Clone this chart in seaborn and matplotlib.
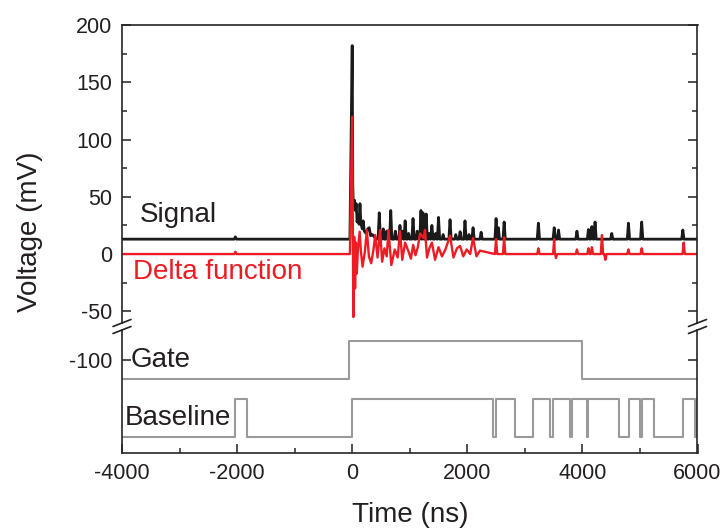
import numpy as np
import pandas as pd
import matplotlib
matplotlib.use("Agg")
import matplotlib.pyplot as plt
import seaborn as sns

# ---- data (time in ns, voltage in mV) ----
sig_base = 13
sig_burst_t = [0, 10, 20, 40, 55, 70, 85, 100, 120, 135, 150, 175, 190, 210,
               240, 270, 295, 320, 350, 400]
sig_burst_v = [182, 62, 40, 47, 38, 44, 28, 34, 26, 44, 27, 22, 29, 20,
               18, 22, 23, 16, 17, 14]
sig_spike_t = [-2030, 470, 540, 600, 670, 750, 830, 870, 920, 980, 1057, 1130,
               1195, 1230, 1285, 1340, 1385, 1450, 1500, 1580, 1700, 1800, 1875,
               1960, 2030, 2100, 2240, 2500, 2540, 2640, 3235, 3510, 3585, 3905,
               4105, 4165, 4220, 4510, 4800, 5030, 5745]
sig_spike_v = [15, 36, 22, 20, 38, 20, 25, 20, 29, 18, 31, 20,
               38, 36, 35, 18, 25, 18, 32, 17, 30, 17, 19.5,
               29, 17, 23, 19, 31, 23, 28, 27, 23, 21, 20,
               21.5, 24, 28, 18, 27, 28, 21]

delta_base = 0
delta_burst_t = [0, 20, 35, 50, 65, 80, 100, 130, 150, 180, 220, 255, 290, 330, 370,
                 400, 440, 485, 520, 560, 600, 630, 680, 740, 790, 830, 870, 920,
                 980, 1020, 1060, 1100, 1140, 1180, 1240, 1265, 1300, 1340, 1385,
                 1440, 1500, 1560, 1620, 1700, 1760, 1820, 1875, 1930, 1990, 2050,
                 2100, 2160, 2220]
delta_burst_v = [120, -55, 15, -30, 10, -17, 5, 19.5, 3, -11, 2, 21, -2, -8, 4,
                 16.6, -3, 21, -6.7, 5, -2, 21, -9.6, 4, -3, 20, -5, 10,
                 2, -4, 8, -1, 6, 18, 14, 21, -3, 5, 10,
                 -5, 6, -2, 4, 16, -3, 5, 7, -2, 4, 0,
                 14, -2, 3]
delta_spike_t = [-2030, 2500, 2640, 3235, 3510, 3540, 3905, 4105, 4165, 4340, 4400,
                 4800, 5030, 5760]
delta_spike_v = [2, 13, 14.6, 5, 13, -3.5, 4, 5, 6, 16.6, -5, 4, 5, 10]

gate_t = [-4000, -50, 4000, 6000]
gate_v = [-116.6, -83.4, -116.6, -116.6]

base_lo, base_hi = -167, -134
baseline_t = [-4000, -2035, -1832, 0, 2454, 2496, 2830, 3150, 3437, 3484, 3785, 3814,
              4080, 4103, 4636, 4815, 5000, 5030, 5245, 5743, 5960, 5990, 6000]
baseline_state = [0, 1, 0, 1, 0, 1, 0, 1, 0, 1, 0, 1, 0, 1, 0, 1, 0, 1, 0, 1, 0, 1, 1]


def build(base, burst_t, burst_v, spk_t, spk_v, w=20):
    t = [-4000, -40] + list(burst_t) + [6000]
    v = [base, base] + list(burst_v) + [base]
    for a, b in zip(spk_t, spk_v):
        t += [a - w, a, a + w]
        v += [base, b, base]
    order = np.argsort(t, kind="stable")
    return pd.DataFrame({"t": np.array(t)[order], "v": np.array(v)[order]})


sig = build(sig_base, sig_burst_t, sig_burst_v, sig_spike_t, sig_spike_v)
delta = build(delta_base, delta_burst_t, delta_burst_v, delta_spike_t, delta_spike_v)
gate = pd.DataFrame({"t": gate_t, "v": gate_v})
bline = pd.DataFrame({"t": baseline_t,
                      "v": [base_hi if s else base_lo for s in baseline_state]})

sns.set_style("ticks")
plt.rcParams["font.family"] = ["Liberation Sans", "DejaVu Sans"]
plt.rcParams["axes.linewidth"] = 1.2
plt.rcParams["axes.unicode_minus"] = False

W, H = 723, 528
fig = plt.figure(figsize=(W / 100, H / 100), dpi=100)
x0, x1 = 122, 697.5
ax_top = fig.add_axes([x0 / W, 1 - 323 / H, (x1 - x0) / W, (323 - 25) / H])
ax_bot = fig.add_axes([x0 / W, 1 - 453 / H, (x1 - x0) / W, (453 - 330) / H])

ink = "#231f20"
red = "#ed1c24"
grey = "#9a9a9a"

sns.lineplot(data=sig, x="t", y="v", ax=ax_top, color="#1a1a1a", lw=2.0,
             estimator=None, sort=False)
sns.lineplot(data=delta, x="t", y="v", ax=ax_top, color=red, lw=1.7,
             estimator=None, sort=False)
sns.lineplot(data=gate, x="t", y="v", ax=ax_bot, color=grey, lw=1.5,
             estimator=None, sort=False, drawstyle="steps-post")
sns.lineplot(data=bline, x="t", y="v", ax=ax_bot, color=grey, lw=1.5,
             estimator=None, sort=False, drawstyle="steps-post")

for ax in (ax_top, ax_bot):
    ax.set_xlim(-4000, 6000)
    ax.set_xlabel("")
    ax.set_ylabel("")
    ax.tick_params(direction="in", labelsize=15.5, colors=ink, width=1.1,
                   pad=7, right=True)
    ax.tick_params(which="minor", direction="in", length=3.5, width=1.1, right=True)
    ax.tick_params(which="major", length=6.5)

ax_top.set_ylim(-60.2, 200)
ax_top.set_yticks([-50, 0, 50, 100, 150, 200])
ax_top.set_yticks([-25, 25, 75, 125, 175], minor=True)
ax_top.spines["bottom"].set_visible(False)
ax_top.tick_params(axis="x", which="both", bottom=False, labelbottom=False)

ax_bot.set_ylim(-181, -73.8)
ax_bot.set_yticks([-100])
ax_bot.spines["top"].set_visible(False)
ax_bot.set_xticks([-4000, -2000, 0, 2000, 4000, 6000])
ax_bot.set_xticks([-3000, -1000, 1000, 3000, 5000], minor=True)

# axis break marks
for px in (x0, x1):
    for py in (323, 330):
        fig.add_artist(plt.Line2D([(px - 9) / W, (px + 9) / W],
                                  [1 - (py + 3.5) / H, 1 - (py - 3.5) / H],
                                  color=ink, lw=1.2))

ax_top.text(-3690, 34, "Signal", fontsize=20, color=ink, va="center")
ax_top.text(-3810, -15.7, "Delta function", fontsize=20, color=red, va="center")
ax_bot.text(-3850, -100, "Gate", fontsize=20, color=ink, va="center")
ax_bot.text(-3950, -150.6, "Baseline", fontsize=20, color=ink, va="center")

fig.text(30 / W, 1 - 232 / H, "Voltage (mV)", rotation=90, fontsize=20,
         color=ink, ha="center", va="center")
fig.text(410 / W, 1 - 515 / H, "Time (ns)", fontsize=20, color=ink,
         ha="center", va="center")

fig.savefig("out.png", dpi=100)
